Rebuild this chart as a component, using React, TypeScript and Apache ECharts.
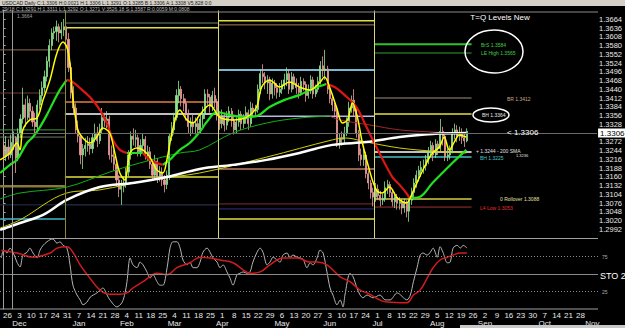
import React, { useEffect, useRef } from 'react';
import * as echarts from 'echarts';

// USDCAD daily, day index 0 = Mon 26 Nov 2018 (5 trading days per week)
// [open, close, low, high]
const candles: number[][] = [
  [1.3260,1.3225,1.3205,1.3275],[1.3225,1.3255,1.3210,1.3290],[1.3255,1.3230,1.3215,1.3280],[1.3230,1.3270,1.3220,1.3295],[1.3270,1.3285,1.3245,1.3305],
  [1.3285,1.3220,1.3172,1.3290],[1.3220,1.3300,1.3210,1.3315],[1.3300,1.3345,1.3285,1.3360],[1.3345,1.3390,1.3330,1.3445],[1.3390,1.3350,1.3320,1.3410],
  [1.3350,1.3395,1.3340,1.3420],[1.3395,1.3370,1.3345,1.3410],[1.3370,1.3335,1.3320,1.3385],[1.3335,1.3320,1.3300,1.3365],[1.3320,1.3390,1.3310,1.3405],
  [1.3390,1.3420,1.3375,1.3440],[1.3420,1.3445,1.3400,1.3465],[1.3445,1.3480,1.3430,1.3500],[1.3480,1.3530,1.3465,1.3545],[1.3530,1.3580,1.3510,1.3600],
  [1.3580,1.3620,1.3565,1.3635],[1.3620,1.3625,1.3600,1.3640],[1.3625,1.3640,1.3595,1.3660],[1.3640,1.3620,1.3590,1.3650],[1.3620,1.3630,1.3600,1.3655],
  [1.3630,1.3640,1.3610,1.3665],[1.3640,1.3600,1.3580,1.3660],[1.3600,1.3510,1.3495,1.3620],[1.3510,1.3430,1.3410,1.3525],[1.3430,1.3380,1.3360,1.3450],
  [1.3380,1.3310,1.3300,1.3395],[1.3310,1.3290,1.3270,1.3340],[1.3290,1.3230,1.3200,1.3300],[1.3230,1.3250,1.3185,1.3265],[1.3250,1.3260,1.3225,1.3285],
  [1.3260,1.3265,1.3240,1.3290],[1.3265,1.3250,1.3230,1.3285],[1.3250,1.3285,1.3235,1.3300],[1.3285,1.3300,1.3270,1.3330],[1.3300,1.3275,1.3255,1.3320],
  [1.3275,1.3310,1.3265,1.3330],[1.3310,1.3350,1.3300,1.3380],[1.3350,1.3340,1.3320,1.3365],[1.3340,1.3345,1.3315,1.3370],[1.3345,1.3230,1.3215,1.3355],
  [1.3230,1.3225,1.3205,1.3260],[1.3225,1.3200,1.3180,1.3245],[1.3200,1.3150,1.3130,1.3215],[1.3150,1.3120,1.3095,1.3165],[1.3120,1.3130,1.3070,1.3150],
  [1.3130,1.3140,1.3110,1.3160],[1.3140,1.3175,1.3125,1.3190],[1.3175,1.3230,1.3160,1.3245],[1.3230,1.3290,1.3215,1.3305],[1.3290,1.3280,1.3260,1.3315],
  [1.3280,1.3285,1.3255,1.3310],[1.3285,1.3240,1.3225,1.3295],[1.3240,1.3260,1.3225,1.3280],[1.3260,1.3280,1.3240,1.3300],[1.3280,1.3230,1.3215,1.3290],
  [1.3230,1.3240,1.3210,1.3260],[1.3240,1.3200,1.3185,1.3255],[1.3200,1.3165,1.3150,1.3215],[1.3165,1.3210,1.3150,1.3230],[1.3210,1.3160,1.3140,1.3220],
  [1.3160,1.3175,1.3145,1.3195],[1.3175,1.3150,1.3130,1.3190],[1.3150,1.3135,1.3110,1.3165],[1.3135,1.3165,1.3120,1.3180],[1.3165,1.3290,1.3150,1.3300],
  [1.3290,1.3310,1.3275,1.3335],[1.3310,1.3350,1.3295,1.3365],[1.3350,1.3420,1.3340,1.3440],[1.3420,1.3440,1.3395,1.3467],[1.3440,1.3410,1.3385,1.3450],
  [1.3410,1.3395,1.3370,1.3425],[1.3395,1.3360,1.3340,1.3410],[1.3360,1.3320,1.3300,1.3375],[1.3320,1.3335,1.3290,1.3350],[1.3335,1.3320,1.3300,1.3360],
  [1.3320,1.3330,1.3295,1.3350],[1.3330,1.3310,1.3290,1.3345],[1.3310,1.3345,1.3300,1.3360],[1.3345,1.3360,1.3320,1.3385],[1.3360,1.3425,1.3345,1.3440],
  [1.3425,1.3415,1.3390,1.3440],[1.3415,1.3385,1.3365,1.3425],[1.3385,1.3420,1.3370,1.3435],[1.3420,1.3400,1.3380,1.3445],[1.3400,1.3355,1.3340,1.3410],
  [1.3355,1.3330,1.3310,1.3370],[1.3330,1.3355,1.3315,1.3375],[1.3355,1.3325,1.3305,1.3365],[1.3325,1.3350,1.3310,1.3370],[1.3350,1.3370,1.3335,1.3385],
  [1.3370,1.3340,1.3320,1.3380],[1.3340,1.3310,1.3295,1.3355],[1.3310,1.3335,1.3300,1.3350],[1.3335,1.3360,1.3320,1.3375],[1.3360,1.3330,1.3310,1.3370],
  [1.3330,1.3345,1.3315,1.3360],[1.3345,1.3365,1.3330,1.3385],[1.3365,1.3330,1.3310,1.3375],[1.3330,1.3380,1.3320,1.3400],[1.3380,1.3370,1.3350,1.3395],
  [1.3370,1.3375,1.3355,1.3390],[1.3375,1.3440,1.3365,1.3455],[1.3440,1.3490,1.3425,1.3505],[1.3490,1.3480,1.3460,1.3520],[1.3480,1.3460,1.3440,1.3495],
  [1.3460,1.3470,1.3425,1.3485],[1.3470,1.3425,1.3405,1.3480],[1.3425,1.3460,1.3410,1.3475],[1.3460,1.3445,1.3420,1.3470],[1.3445,1.3430,1.3410,1.3460],
  [1.3430,1.3440,1.3415,1.3460],[1.3440,1.3455,1.3425,1.3470],[1.3455,1.3470,1.3440,1.3490],[1.3470,1.3490,1.3450,1.3510],[1.3490,1.3440,1.3425,1.3505],
  [1.3440,1.3480,1.3430,1.3495],[1.3480,1.3460,1.3440,1.3490],[1.3460,1.3445,1.3425,1.3475],[1.3445,1.3430,1.3410,1.3460],[1.3430,1.3465,1.3420,1.3480],
  [1.3465,1.3455,1.3435,1.3475],[1.3455,1.3420,1.3400,1.3465],[1.3420,1.3435,1.3410,1.3455],[1.3435,1.3470,1.3425,1.3485],[1.3470,1.3425,1.3410,1.3480],
  [1.3425,1.3440,1.3415,1.3455],[1.3440,1.3465,1.3430,1.3480],[1.3465,1.3515,1.3455,1.3530],[1.3515,1.3500,1.3480,1.3545],[1.3500,1.3505,1.3470,1.3566],
  [1.3505,1.3440,1.3425,1.3515],[1.3440,1.3410,1.3395,1.3455],[1.3410,1.3390,1.3370,1.3425],[1.3390,1.3370,1.3350,1.3400],[1.3370,1.3270,1.3255,1.3380],
  [1.3270,1.3285,1.3250,1.3300],[1.3285,1.3280,1.3260,1.3305],[1.3280,1.3300,1.3265,1.3320],[1.3300,1.3335,1.3290,1.3350],[1.3335,1.3380,1.3320,1.3400],
  [1.3380,1.3405,1.3365,1.3420],[1.3405,1.3370,1.3355,1.3440],[1.3370,1.3300,1.3285,1.3385],[1.3300,1.3230,1.3210,1.3310],[1.3230,1.3215,1.3195,1.3250],
  [1.3215,1.3230,1.3195,1.3250],[1.3230,1.3170,1.3155,1.3240],[1.3170,1.3140,1.3120,1.3180],[1.3140,1.3110,1.3090,1.3150],[1.3110,1.3095,1.3065,1.3125],
  [1.3095,1.3120,1.3080,1.3140],[1.3120,1.3100,1.3085,1.3135],[1.3100,1.3085,1.3065,1.3115],[1.3085,1.3090,1.3070,1.3105],[1.3090,1.3125,1.3080,1.3145],
  [1.3125,1.3135,1.3105,1.3150],[1.3135,1.3110,1.3095,1.3145],[1.3110,1.3080,1.3065,1.3120],[1.3080,1.3095,1.3060,1.3110],[1.3095,1.3075,1.3055,1.3105],
  [1.3075,1.3080,1.3055,1.3095],[1.3080,1.3060,1.3040,1.3090],[1.3060,1.3075,1.3045,1.3090],[1.3075,1.3050,1.3030,1.3085],[1.3050,1.3085,1.3016,1.3095],
  [1.3085,1.3110,1.3070,1.3125],[1.3110,1.3140,1.3095,1.3155],[1.3140,1.3165,1.3125,1.3180],[1.3165,1.3180,1.3145,1.3195],[1.3180,1.3190,1.3160,1.3210],
  [1.3190,1.3195,1.3170,1.3215],[1.3195,1.3215,1.3180,1.3230],[1.3215,1.3240,1.3200,1.3255],[1.3240,1.3260,1.3225,1.3275],[1.3260,1.3230,1.3210,1.3270],
  [1.3230,1.3265,1.3220,1.3280],[1.3265,1.3250,1.3230,1.3275],[1.3250,1.3305,1.3240,1.3345],[1.3305,1.3290,1.3260,1.3320],[1.3290,1.3225,1.3210,1.3295],
  [1.3225,1.3230,1.3210,1.3250],[1.3230,1.3245,1.3215,1.3260],[1.3245,1.3300,1.3235,1.3315],[1.3300,1.3310,1.3280,1.3330],[1.3310,1.3290,1.3270,1.3325],
  [1.3290,1.3300,1.3275,1.3320],[1.3300,1.3285,1.3265,1.3315],[1.3285,1.3275,1.3255,1.3300],[1.3275,1.3306,1.3270,1.3315],
];

// Moving averages: [dayIndex, price]
const fastMA: number[][] = [
  [-1.5,1.3214],[2.6,1.3236],[5.5,1.3268],[6.8,1.3246],[8.0,1.3310],[10.9,1.3342],[13.9,1.3348],[16.4,1.3406],[19.3,1.3470],[22.2,1.3556],
  [24.7,1.3591],[26.3,1.3575],[27.6,1.3524],[28.8,1.3415],[30.9,1.3310],[33.0,1.3284],[35.9,1.3268],[38.8,1.3287],[41.3,1.3316],[44.2,1.3300],
  [46.3,1.3236],[48.4,1.3172],[50.5,1.3150],[52.6,1.3236],[55.5,1.3252],[58.0,1.3246],[60.9,1.3223],[63.8,1.3182],[66.3,1.3172],[68.0,1.3214],
  [70.4,1.3310],[73.4,1.3374],[76.3,1.3342],[78.8,1.3332],[81.7,1.3358],[85.9,1.3390],[90.0,1.3351],[95.4,1.3342],[101.3,1.3351],[105.4,1.3383],
  [107.5,1.3447],[110.8,1.3470],[115.0,1.3447],[119.1,1.3463],[123.3,1.3447],[127.5,1.3438],[131.6,1.3460],[133.7,1.3479],[135.8,1.3447],[138.7,1.3383],
  [141.2,1.3332],[143.3,1.3342],[145.4,1.3396],[147.4,1.3351],[149.5,1.3268],[152.4,1.3182],[155.3,1.3118],[157.8,1.3108],[160.8,1.3127],[163.7,1.3095],
  [165.0,1.3086],[167.8,1.3076],[170.3,1.3108],[173.3,1.3159],[176.2,1.3204],[178.7,1.3236],[181.6,1.3255],[183.6,1.3287],[185.7,1.3246],[187.8,1.3271],
  [189.9,1.3294],[192.8,1.3287],
];
// colour-changing trend MA: rising segments / falling segments
const trendUp: number[][][] = [
  [[-1.5,1.3172],[2.6,1.3198],[5.5,1.3214],[9.7,1.3268],[12.2,1.3287],[15.1,1.3319],[18.0,1.3358],[20.5,1.3396],[23.4,1.3438],[26.3,1.3470]],
  [[51.3,1.3236],[54.6,1.3236],[58.0,1.3236]],
  [[66.3,1.3198],[69.2,1.3214],[73.4,1.3246],[77.5,1.3268],[81.7,1.3303],[84.6,1.3335],[88.8,1.3367],[94.2,1.3358],[100.4,1.3351],[105.4,1.3354],[110.8,1.3383],[117.1,1.3406],[123.3,1.3422],[129.5,1.3444],[134.5,1.3457]],
  [[169.1,1.3092],[173.3,1.3095],[178.7,1.3140],[182.8,1.3172],[187.0,1.3204],[192.8,1.3246]],
];
const trendDown: number[][][] = [
  [[26.3,1.3470],[28.8,1.3463],[31.8,1.3444],[35.9,1.3415],[40.1,1.3374],[43.0,1.3332],[45.5,1.3278],[48.4,1.3246],[51.3,1.3236]],
  [[58.0,1.3236],[60.9,1.3214],[63.8,1.3204],[66.3,1.3198]],
  [[134.5,1.3457],[137.9,1.3447],[142.0,1.3422],[147.0,1.3383],[151.2,1.3319],[156.6,1.3236],[162.0,1.3159],[165.0,1.3134],[167.8,1.3108],[169.1,1.3092]],
];
const slowUp: number[][] = [
  [-1.5,1.3089],[6.8,1.3108],[26.3,1.3127],[44.2,1.3175],[56.7,1.3204],[73.4,1.3236],[81.7,1.3246],[95.4,1.3300],[109.6,1.3332],[123.3,1.3348],[135.8,1.3354],
];
const slowDown: number[][] = [
  [135.8,1.3354],[140.0,1.3342],[152.4,1.3326],[165.0,1.3310],[178.7,1.3303],[192.8,1.3297],
];
const sma200: number[][] = [
  [-1.5,1.2990],[6.8,1.3012],[16.4,1.3038],[26.3,1.3086],[40.1,1.3127],[53.8,1.3140],[68.0,1.3159],[81.7,1.3185],[95.4,1.3198],[109.6,1.3214],
  [123.3,1.3236],[137.0,1.3262],[151.2,1.3271],[165.0,1.3287],[178.7,1.3297],[192.8,1.3300],
];
const thinYellowMA: number[][] = [
  [-1.5,1.2996],[6.8,1.3022],[26.3,1.3108],[40.1,1.3118],[60.9,1.3150],[81.7,1.3172],[109.6,1.3223],[137.0,1.3278],[142.5,1.3284],[151.2,1.3271],
  [165.0,1.3252],[178.7,1.3242],[192.8,1.3236],
];

// Stochastic %K and %D: [dayIndex, value]
const stochK: number[][] = [
  [-1,73],[0,84],[1.4,80],[2.6,87],[3.9,81],[5.5,67],[6.8,60],[8,77],[9.7,81],[10.9,87],[12.2,80],[13.9,73],[15.1,84],[16.4,91],[18,96],[19.3,99],
  [20.5,100],[22.2,94],[23.4,96],[24.7,91],[26.3,87],[27.6,63],[28.8,34],[30.5,20],[31.8,13],[33,6],[34.7,10],[36,17],[38.8,23],[40.1,27],[41.3,30],
  [43,20],[44.2,13],[47.1,3],[49.2,9],[50.5,23],[51.3,39],[52.6,73],[53.8,63],[55.5,59],[56.7,67],[58,63],[59.6,53],[60.9,44],[62.1,49],[63.8,39],
  [65,34],[66.3,34],[68,59],[69.2,87],[70.4,96],[72.1,96],[73.4,87],[74.6,70],[76.3,63],[77.5,67],[78.8,59],[80.4,59],[81.7,67],[82.9,81],[84.6,87],
  [85.9,81],[87.1,73],[88.8,67],[90,59],[91.3,63],[92.9,53],[94.2,44],[95.4,34],[97.1,49],[98.3,51],[99.6,53],[101.3,51],[102.5,53],[103.7,67],
  [105.4,81],[106.7,87],[107.9,81],[109.6,63],[110.8,67],[112.1,74],[113.7,70],[115,67],[116.2,77],[117.9,80],[119.1,74],[120.4,77],[122.1,74],
  [123.3,73],[124.6,71],[126.2,59],[127.5,66],[128.7,63],[130.4,73],[131.6,84],[132.9,80],[134.5,53],[135.8,30],[137,20],[138.7,6],[140,13],
  [141.2,3],[142,20],[144.1,51],[145.4,46],[147,30],[148.3,20],[149.5,16],[151.2,20],[153.7,16],[156.6,20],[158.7,13],[160.8,13],[163.7,23],
  [167.8,13],[169.2,20],[170.5,39],[172,59],[173.3,77],[174.5,80],[176.2,77],[177.5,81],[178.7,87],[180.4,74],[181.6,89],[182.8,81],[184.6,66],
  [185.8,67],[187,87],[188.7,91],[190,87],[191.2,91],[192.8,87],
];
const stochD: number[][] = [
  [-1,84],[5.5,80],[12.2,74],[19.3,80],[22.2,87],[26.3,89],[28.8,81],[31.8,63],[35.9,44],[40.1,27],[44.2,21],[48.4,21],[51.3,23],[53.8,30],
  [58,39],[63.8,51],[68,49],[72.1,59],[77.5,66],[81.7,74],[85.9,73],[90,70],[95.4,66],[99.6,56],[102.5,51],[106.7,53],[110.8,63],[116.2,73],
  [122.1,73],[127.5,67],[130.4,67],[134.5,63],[140,46],[144.1,39],[148.3,27],[151.2,23],[159.5,10],[167.8,9],[170.5,20],[173.3,27],[176.2,44],
  [178.7,59],[181.6,70],[184.6,74],[187,77],[190,80],[192.8,80],
];
const stochLevels = [75, 50, 25];

// Quarterly T=Q levels (day-index boundaries of each quarter, and prices)
const quarterBounds = [-1.5, 25.5, 89.5, 154.5, 195];
const q4Levels = [1.3566, 1.3428, 1.3310, 1.3287, 1.3130, 1.3070, 1.3025];
const q1Levels = [1.3652, 1.3637, 1.3399, 1.3361, 1.3159, 1.3070];
const q2Levels = [1.3659, 1.3646, 1.3502, 1.3354, 1.3185, 1.3073, 1.3057, 1.3025];
const q3Levels = [1.3584, 1.3556, 1.3412, 1.3361, 1.3239, 1.3223, 1.3089, 1.3063];
const quarterSeparators = [25.5, 89.5, 154.5];
const markerDay = 3.5;
const lastPrice = 1.3306;

const weekLabels = ['26','3','10','17','24','31','7','14','21','28','4','11','18','25','4','11','18','25','1','8','15','22','29','6','13','20','27','3','10','17','24','1','8','15','22','29','5','12','19','26','2','9','16','23','30','7','14','21','28',''];
const monthLabels: Record<number, string> = { 1: 'Dec', 6: 'Jan', 10: 'Feb', 14: 'Mar', 18: 'Apr', 23: 'May', 27: 'Jun', 31: 'Jul', 36: 'Aug', 40: 'Sep', 45: 'Oct', 49: 'Nov' };

// styles
const q4Styles: [string, number][] = [['#8c6a4f',1],['#6e3e30',1],['#3f9a3f',1],['#6a7a5a',1],['#8a7a3a',2.5],['#2a3050',1],['#40b8c8',1.5]];
const q1Styles: [string, number][] = [['#6a8a6a',1],['#e0e040',1.5],['#e08040',1.5],['#ffffff',1.5],['#e0e040',1.5],['#303860',1]];
const q2Styles: [string, number][] = [['#e0e040',1.5],['#b07a60',1],['#78b8d0',2],['#b8b8e8',1.5],['#c08060',1.5],['#803030',1],['#303080',1],['#e0e040',1.5]];
const q3Styles: [string, number][] = [['#30c030',2],['#30a030',1],['#a09080',1],['#e0e040',1.5],['#ffffff',1.5],['#40c0c0',1.5],['#d0d040',1.5],['#a03030',1]];

const FONT = '"Liberation Sans", Arial, sans-serif';

function buildOption() {
  const series: any[] = [];
  const levelSets: [number[], [string, number][]][] = [[q4Levels, q4Styles], [q1Levels, q1Styles], [q2Levels, q2Styles], [q3Levels, q3Styles]];
  levelSets.forEach(([lv, st], q) => {
    lv.forEach((p, i) => {
      series.push({
        type: 'line', xAxisIndex: 0, yAxisIndex: 0, silent: true, symbol: 'none', z: 1,
        data: [[quarterBounds[q], p], [quarterBounds[q + 1], p]],
        lineStyle: { color: st[i][0], width: st[i][1] },
      });
    });
  });

  series.push({
    type: 'candlestick', xAxisIndex: 0, yAxisIndex: 0, z: 2, barWidth: 1.6,
    data: candles.map((c, i) => [i, c[0], c[1], c[2], c[3]]),
    encode: { x: 0, y: [1, 2, 3, 4] },
    itemStyle: { color: '#8fe28f', color0: '#ec9c9c', borderColor: '#8fe28f', borderColor0: '#ec9c9c', borderWidth: 0.8 },
    markLine: {
      silent: true, symbol: 'none', animation: false,
      data: [
        { yAxis: lastPrice, lineStyle: { color: '#6a6a6a', width: 1, type: 'solid' },
          label: { show: true, position: 'end', distance: 1, formatter: lastPrice.toFixed(4), color: '#000', backgroundColor: '#fff', padding: [1, 2, 0, 2], fontSize: 8, fontFamily: FONT } },
        ...quarterSeparators.map((d, i) => ({ xAxis: d, lineStyle: { color: i === 0 ? '#8a8a40' : '#d8d878', width: 1, type: 'solid' }, label: { show: false } })),
        { xAxis: markerDay, lineStyle: { color: '#9a9a9a', width: 1, type: 'solid' }, label: { show: false } },
      ],
    },
  });

  const line = (data: number[][], color: string, width: number, z = 3) => ({
    type: 'line', xAxisIndex: 0, yAxisIndex: 0, silent: true, symbol: 'none', smooth: 0.35, z,
    data, lineStyle: { color, width },
  });
  series.push(line(thinYellowMA, '#d0d000', 1));
  series.push(line(slowUp, '#10b010', 1));
  series.push(line(slowDown, '#a02828', 1));
  series.push(line(sma200, '#ffffff', 2.5));
  trendUp.forEach((seg) => series.push(line(seg, '#20e020', 2.2, 4)));
  trendDown.forEach((seg) => series.push(line(seg, '#e01515', 2.2, 4)));
  series.push(line(fastMA, '#ffff00', 1.5, 5));

  series.push({
    type: 'line', xAxisIndex: 1, yAxisIndex: 1, silent: true, symbol: 'none', smooth: 0.3, z: 3,
    data: stochK, lineStyle: { color: '#b4b4b4', width: 1 },
    markLine: {
      silent: true, symbol: 'none', animation: false, label: { show: false },
      data: [
        ...stochLevels.map((v) => ({ yAxis: v, lineStyle: { color: '#8a8a8a', width: 1, type: v === 50 ? 'solid' : [1, 2] } })),
        { xAxis: markerDay, lineStyle: { color: '#9a9a9a', width: 1, type: 'solid' } },
      ],
    },
  });
  series.push({
    type: 'line', xAxisIndex: 1, yAxisIndex: 1, silent: true, symbol: 'none', smooth: 0.4, z: 4,
    data: stochD, lineStyle: { color: '#d01c1c', width: 1.5 },
  });

  const txt = (x: number, y: number, text: string, fill: string, size: number, extra: any = {}) => ({
    type: 'text', x, y, z: 100, silent: true,
    style: { text, fill, fontSize: size, fontFamily: FONT, verticalAlign: 'middle', align: 'left', ...extra },
  });

  const graphic: any[] = [
    { type: 'rect', shape: { x: 0, y: 0, width: 625, height: 6 }, style: { fill: '#d4d0c8' }, z: 90 },
    txt(2, 3, 'USDCAD Daily C:1.3306 H:0.0021 H:1.3306 L:1.3291 O:1.3285 B:1.3306 A:1.3308 V5,828 0:0', '#202020', 5),
    txt(2, 9, '29/18 C:1.3291 H:1.3311 L:1.3292 O:1.3271 V:3526.18 S:1.3587 R:0.0059 M:0.0808', '#b8b8b8', 5),
    { type: 'line', shape: { x1: 0, y1: 12, x2: 598, y2: 12 }, style: { stroke: '#8a8a8a', lineWidth: 1 }, z: 90 },
    { type: 'line', shape: { x1: 0, y1: 238.5, x2: 598, y2: 238.5 }, style: { stroke: '#a0a0a0', lineWidth: 1 }, z: 90 },
    { type: 'line', shape: { x1: 0, y1: 309, x2: 598, y2: 309 }, style: { stroke: '#a0a0a0', lineWidth: 1 }, z: 90 },
    txt(17, 15.5, '1.3664', '#a0a0a0', 5),
    txt(500, 17, 'T=Q Levels New', '#ffffff', 8, { align: 'center' }),
    { type: 'ellipse', shape: { cx: 494, cy: 51.5, rx: 29, ry: 21.5 }, style: { fill: 'none', stroke: '#ffffff', lineWidth: 1.5 }, z: 100 },
    txt(481, 45, 'BrS 1.3584', '#40d040', 5),
    txt(481, 53, 'LE High 1.3565', '#40d040', 5),
    txt(507, 99, 'BR 1.3412', '#c8a880', 5),
    { type: 'ellipse', shape: { cx: 491, cy: 115, rx: 18, ry: 7 }, style: { fill: 'none', stroke: '#ffffff', lineWidth: 1.5 }, z: 100 },
    txt(482, 114.5, 'BH 1.3364', '#e8e8e8', 5),
    txt(507, 132, '< 1.3306', '#ffffff', 8),
    txt(476, 150.5, '+ 1.3244 - 200 SMA', '#e0e0e0', 5),
    txt(516, 155, '1.3236', '#e0e0e0', 4),
    txt(480, 157.5, 'BH 1.3225', '#40c8c8', 5),
    txt(500, 199, '0 Rollover 1.3088', '#e0e0a0', 5),
    txt(480, 207.5, 'L4 Low 1.3053', '#e03030', 5),
    txt(602, 257, '75', '#b0b0b0', 5),
    txt(600, 276, 'STO 2', '#ffffff', 9),
    txt(602, 292, '25', '#b0b0b0', 5),
    { type: 'rect', shape: { x: 460, y: 325, width: 165, height: 3 }, style: { fill: '#c8c8c8' }, z: 90 },
  ];

  return {
    animation: false,
    backgroundColor: '#000000',
    grid: [
      { left: 0, width: 598, top: 10.5, height: 227.5 },
      { left: 0, width: 598, top: 239, height: 70 },
      { left: 3.7, width: 588.7, top: 239, height: 70 },
    ],
    xAxis: [
      { type: 'value', gridIndex: 0, min: -1.54, max: 247.3, show: false, splitLine: { show: false } },
      { type: 'value', gridIndex: 1, min: -1.54, max: 247.3, show: false, splitLine: { show: false } },
      {
        type: 'category', gridIndex: 2, data: weekLabels, boundaryGap: false,
        axisLine: { show: false }, axisTick: { show: false }, splitLine: { show: false },
        axisLabel: {
          interval: 0, margin: 2, color: '#e8e8e8', fontSize: 8, fontFamily: FONT, lineHeight: 8.5,
          formatter: (v: string, i: number) => (monthLabels[i] ? `${v}\n${monthLabels[i]}` : v),
        },
      },
    ],
    yAxis: [
      {
        type: 'value', gridIndex: 0, position: 'right', min: 1.2964, max: 1.3692, interval: 0.0028, scale: true,
        axisLine: { show: true, lineStyle: { color: '#a0a0a0' } },
        axisTick: { show: true, length: 2, lineStyle: { color: '#a0a0a0' } },
        splitLine: { show: false },
        axisLabel: {
          margin: 2, color: '#e8e8e8', fontSize: 7.5, fontFamily: FONT,
          formatter: (v: number) => (v < 1.299 || v > 1.3668 || Math.abs(v - 1.33) < 1e-6 ? '' : v.toFixed(4)),
        },
      },
      {
        type: 'value', gridIndex: 1, position: 'right', min: 0, max: 100,
        axisLine: { show: true, lineStyle: { color: '#a0a0a0' } }, axisTick: { show: false },
        axisLabel: { show: false }, splitLine: { show: false },
      },
      { type: 'value', gridIndex: 2, show: false, splitLine: { show: false } },
    ],
    series,
    graphic,
  };
}

export default function App() {
  const ref = useRef<HTMLDivElement>(null);
  useEffect(() => {
    const chart = echarts.init(ref.current!, null, { renderer: 'svg' });
    chart.setOption(buildOption() as any);
    return () => chart.dispose();
  }, []);
  return <div ref={ref} style={{ position: 'fixed', left: 0, top: 0, width: 625, height: 328, background: '#000' }} />;
}
